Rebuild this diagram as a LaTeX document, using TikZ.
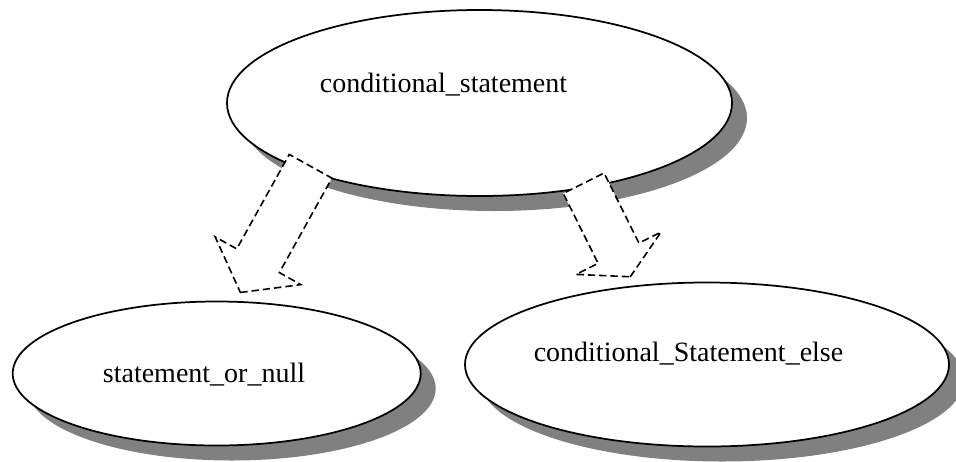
\documentclass[tikz,border=0pt]{standalone}
\usepackage{fontspec}
\setmainfont{Liberation Serif}
\usetikzlibrary{shapes.geometric,shapes.arrows,shadows}
\tikzset{
	term/.style={
		shape = ellipse,
		draw,
		fill = white,
		line width = 1.3pt,
		inner sep = 0pt,
		drop shadow = {shadow xshift = 11.25pt, shadow yshift = -11.25pt, fill = gray, opacity = 1}
	},
	flow/.style={
		shape = single arrow,
		draw,
		fill = white,
		line width = 1.2pt,
		dash pattern = on 5.5pt off 3pt,
		single arrow head extend = 18.5pt,
		anchor = tail
	},
}

\begin{document}
\begin{tikzpicture}[x=0.75pt, y=-0.75pt, font=\fontsize{21}{25}\selectfont]
    \useasboundingbox (0,0) rectangle (956,461);
    % ellipses
    \node[term, minimum width=378.75pt, minimum height=139.5pt] (cond) at (479.5,103) {};
    \node[term, minimum width=306pt, minimum height=108pt] (stmt) at (216.7,373.5) {};
    \node[term, minimum width=363pt, minimum height=123pt] (celse) at (707,364.5) {};
    \node[anchor=base] (condtext) at (443.5,92) {conditional\_statement};
    \node[anchor=base] (stmttext) at (204,382.7) {statement\_or\_null};
    \node[anchor=base] (celsetext) at (688.5,361.7) {conditional\_Statement\_else};
    % block arrows
    \node[flow, rotate=240.9, inner sep=17.7pt, single arrow tip angle=107,
      minimum height=108.3pt] (tostmt) at (311,165.6) {};
    \node[flow, rotate=296.5, inner sep=16.5pt, single arrow tip angle=122,
      minimum height=78.4pt] (toelse) at (583.3,182.5) {};
  \end{tikzpicture}
\end{document}
